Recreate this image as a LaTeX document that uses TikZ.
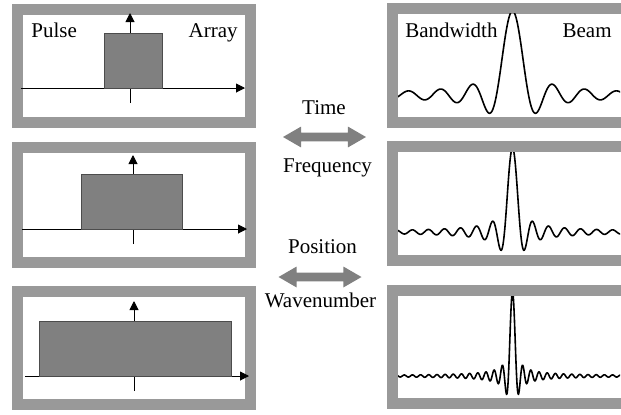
\documentclass[tikz,border=0pt]{standalone}
\usepackage{fontspec}
\setmainfont{Liberation Serif}
\usepackage{tikz}
\usetikzlibrary{arrows.meta}
\usetikzlibrary{shapes.arrows}

\definecolor{framegray}{gray}{0.6}
\definecolor{boxgray}{gray}{0.5}

\begin{document}
\begin{tikzpicture}[font=\fontsize{10.5pt}{12pt}\selectfont, x=0.5pt, y=-0.5pt,
        panelframe/.style={draw=framegray, line width=5.5pt},
        pulseaxis/.style={line width=0.5pt, -{Triangle[length=4.5pt, width=4.5pt]}},
        pulsebox/.style={fill=boxgray, draw=black!70, line width=0.5pt},
        beamcurve/.style={line width=0.8pt, smooth, samples=600},
        dualarrow/.style={double arrow, fill=boxgray, inner sep=2pt, minimum height=41.5pt, minimum width=10pt, double arrow head extend=3pt, double arrow tip angle=60},
        txt/.style={inner sep=0pt}]
            \useasboundingbox (0,0) rectangle (621,414);
            % frames
            \foreach \ya/\yb in {9/122.5, 147.5/262, 291.5/404}
                \draw[panelframe] (17.75,\ya) rectangle (250.75,\yb);
            \foreach \ya/\yb in {8/122, 146.5/260.5, 290.5/403.5}
                \draw[panelframe] (392.5,\ya) rectangle (626,\yb);
            % pulses
            \foreach \ya/\vx/\vb/\vt/\ra/\rb/\rt/\xa/\xb in {88/130/103/13/104/162/33/21/245, 229/133/244/155/81/182/174/22/247, 376/134/391/301/39/231/321/25/249} {
                \draw[pulseaxis] (\xa,\ya) -- (\xb,\ya);
                \draw[pulseaxis] (\vx,\vb) -- (\vx,\vt);
                \draw[pulsebox] (\ra,\rt) rectangle (\rb,\ya);
            }
            % beams
            \foreach \yt/\yb/\base/\sc/\dm in {13/117/95/5.1/23, 152/254/232/2.55/45, 296/398/376/1.3/89} {
                \begin{scope}
                    \clip (398,\yt) rectangle (620,\yb);
                    \draw[beamcurve, domain=-\dm:\dm] plot ({512.5+\sc*\x}, {\base-84*sin(\x r)/\x});
                \end{scope}
            }
            \node[txt, anchor=base west] (pulse) at (31,37) {Pulse};
            \node[txt, anchor=base east] (array) at (238,37) {Array};
            \node[txt, anchor=base west] (bandwidth) at (405,37) {Bandwidth};
            \node[txt, anchor=base east] (beam) at (612,37) {Beam};
            \node[txt, anchor=base] (time) at (324,114) {Time};
            \node[dualarrow] (tf) at (324.5,137) {};
            \node[txt, anchor=base] (frequency) at (327.5,172) {Frequency};
            \node[txt, anchor=base] (position) at (322.5,253) {Position};
            \node[dualarrow] (pw) at (320,277) {};
            \node[txt, anchor=base] (wavenumber) at (320.5,307) {Wavenumber};
        \end{tikzpicture}
\end{document}
